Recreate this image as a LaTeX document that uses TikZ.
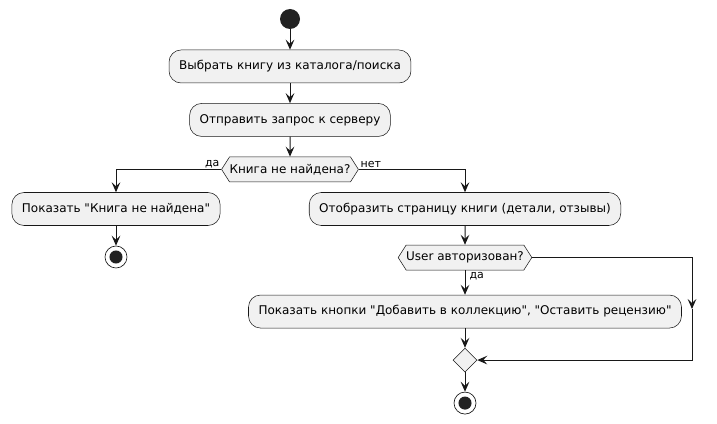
\documentclass[tikz,border=0pt]{standalone}
\usepackage{fontspec}
\setmainfont{DejaVu Sans}
\usepackage{tikz}
\usetikzlibrary{positioning, shapes.symbols, shapes.geometric, arrows.meta}
\definecolor{umlfill}{HTML}{F1F1F1}
\definecolor{umlline}{HTML}{181818}
\definecolor{umldot}{HTML}{222222}

\begin{document}
\begin{tikzpicture}[x=0.75pt,y=-0.75pt,->,>={Stealth[length=7.5pt,width=6.5pt,inset=3pt]},
                    line width=0.75pt,draw=umlline,
                    font=\fontsize{9pt}{11pt}\selectfont]
\tikzstyle{action}=[rectangle,rounded corners=9pt,fill=umlfill,draw=umlline,line width=0.4pt,minimum height=24.75pt,inner xsep=7.5pt]
\tikzstyle{choice}=[signal,signal to=west and east,signal pointer angle=115,fill=umlfill,draw=umlline,line width=0.4pt,minimum height=18.75pt,inner xsep=0pt]
\tikzstyle{merge}=[diamond,fill=umlfill,draw=umlline,line width=0.4pt,minimum size=18pt,inner sep=0pt]
\tikzstyle{startdot}=[circle,fill=umldot,minimum size=15pt,inner sep=0pt]
\tikzstyle{stopdot}=[circle,fill=white,draw=umlline,line width=0.5pt,minimum size=16.5pt,inner sep=0pt,
                     path picture={\fill[umldot] (path picture bounding box.center) circle (4.9pt);}]
\tikzstyle{lbl}=[font=\fontsize{8.25pt}{10pt}\selectfont,inner sep=1pt]

        \useasboundingbox (0,0) rectangle (717,424);

        \node[startdot]                                  (start)  at (290,19)   {};
        \node[action, node distance=35.6pt]              (b1)  [below of=start] {Выбрать книгу из каталога/поиска};
        \node[action, node distance=40.1pt]              (b2)  [below of=b1]    {Отправить запрос к серверу};
        \node[choice, node distance=37.1pt]              (q1)  [below of=b2]    {Книга не найдена?};

        \node[action]                                    (b3)  at (116,209)     {Показать \textquotedbl Книга не найдена\textquotedbl};
        \node[stopdot, node distance=36pt]               (stop1) [below of=b3]  {};

        \node[action]                                    (b4)  at (465,209)     {Отобразить страницу книги (детали, отзывы)};
        \node[choice, node distance=36.4pt]              (q2)  [below of=b4]    {User авторизован?};
        \node[action, node distance=40.5pt]              (b5)  [below of=q2]    {Показать кнопки \textquotedbl Добавить в коллекцию\textquotedbl, \textquotedbl Оставить рецензию\textquotedbl};
        \node[merge, node distance=36.4pt]               (m)   [below of=b5]    {};
        \node[stopdot, node distance=32.25pt]            (stop2) [below of=m]   {};

        \coordinate (rt) at (692,309);

        \path[->]
        (start) edge (b1)
        (b1)    edge (b2)
        (b2)    edge (q1)
        (b3)    edge (stop1)
        (b4)    edge (q2)
        (b5)    edge (m)
        (m)     edge (stop2)
        ; %end path

        \draw (q1.west) -| node[lbl, pos=0, anchor=south east] {да} (b3.north);
        \draw (q1.east) -| node[lbl, pos=0, anchor=south west] {нет} (b4.north);
        \draw (q2.south) -- node[lbl, pos=0, anchor=north west, xshift=2pt] {да} (b5.north);
        \draw (q2.east) -| (rt);
        \draw (rt) |- (m.east);

\end{tikzpicture}
\end{document}
